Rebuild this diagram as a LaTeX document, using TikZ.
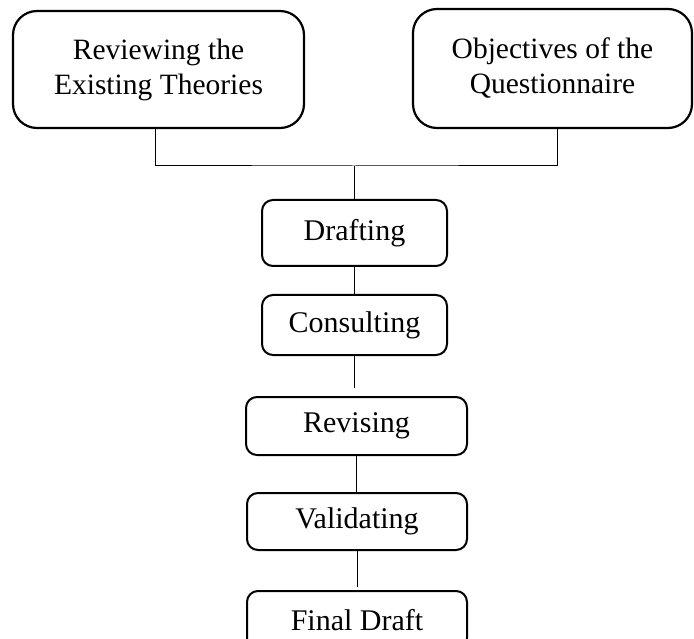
\documentclass[tikz,border=0pt]{standalone}
\usepackage{fontspec}
\setmainfont{Liberation Serif}
\usetikzlibrary{positioning}

\begin{document}
\begin{tikzpicture}[x=1pt, y=-1pt,
    topic/.style={rectangle, draw, line width=2.2pt, rounded corners=24pt, align=center, inner sep=0pt, font=\fontsize{29.5}{35}\selectfont},
    stage/.style={rectangle, draw, line width=2pt, rounded corners=11pt, inner sep=0pt, minimum width=220pt, minimum height=58pt, font=\fontsize{30}{34}\selectfont},
    link/.style={line width=1pt}]
  \useasboundingbox (0,0) rectangle (694,639);
  % Nodes
  \node (review) [topic, minimum width=291pt, minimum height=117pt] at (158.5,69.5) {Reviewing the\\Existing Theories};
  \node (objectives) [topic, minimum width=279pt, minimum height=119pt] at (552.5,68.5) {Objectives of the\\Questionnaire};
  \coordinate (join) at (354,166);
  \node (drafting) [stage, minimum width=185pt, minimum height=66pt] at (354.5,233) {Drafting};
  \node (consulting) [stage, minimum width=185pt, minimum height=60pt, below=27pt of drafting] {Consulting};
  \node (revising) [stage, minimum width=221pt, below=40pt of consulting, xshift=2pt] {Revising};
  \node (validating) [stage, minimum height=57pt, below=36pt of revising, xshift=0.5pt] {Validating};
  \node (final) [stage, below=39pt of validating] {Final Draft};

  % Lines
  \draw[link] ([xshift=-3.5pt]review.south) |- (join) -| ([xshift=4.5pt]objectives.south);
  \draw[link] (join) -- (join |- drafting.north);
  \draw[link] (drafting) -- (consulting);
  \draw[link, shorten >=8pt] (consulting.south) -- (consulting.south |- revising.north);
  \draw[link] (revising.south) -- (revising.south |- validating.north);
  \draw[link, shorten >=3pt] (validating.south) -- (validating.south |- final.north);
\end{tikzpicture}
\end{document}
